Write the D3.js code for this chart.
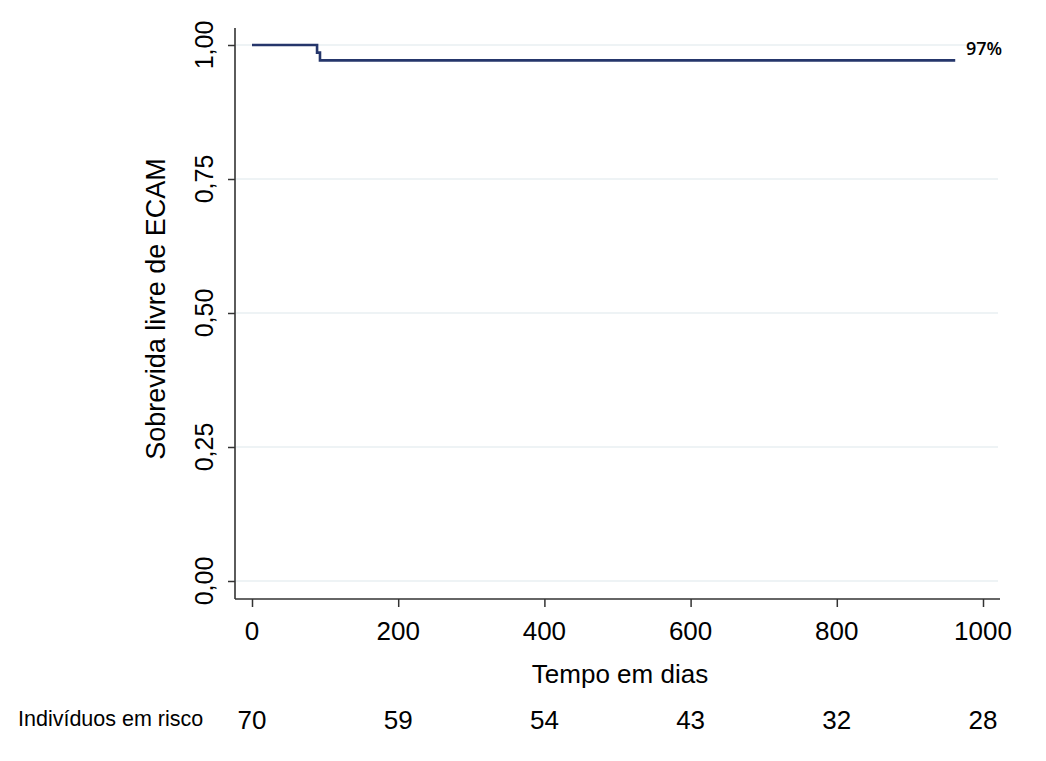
<!DOCTYPE html>
<html>
<head>
<meta charset="utf-8">
<script src="https://cdn.jsdelivr.net/npm/d3@7"></script>
<style>
  body { margin: 0; background: #fff; }
  svg { display: block; }
  text { font-family: "Liberation Sans", Arial, sans-serif; fill: #000; }
</style>
</head>
<body>
<svg id="chart" width="1046" height="761"></svg>
<script>
// Data
const times = [0, 89, 93, 962];
const survival = [1.0, 0.9857, 0.9714, 0.9714];
const yTicks = [0, 0.25, 0.5, 0.75, 1.0];
const xTicks = [0, 200, 400, 600, 800, 1000];
const riskCounts = [70, 59, 54, 43, 32, 28];
const finalLabel = "97%";

const svg = d3.select("#chart");
const x = d3.scaleLinear().domain([0, 1000]).range([252, 983]);
const y = d3.scaleLinear().domain([0, 1]).range([581, 45]);
const axisColor = "#333";
const fmt = d => d3.format(".2f")(d).replace(".", ",");

// gridlines
svg.append("g").selectAll("line").data(yTicks).join("line")
  .attr("x1", 236).attr("x2", 998)
  .attr("y1", d => y(d)).attr("y2", d => y(d))
  .attr("stroke", "#e8eff2").attr("stroke-width", 1.4);

// y axis
const yAxis = svg.append("g").attr("transform", "translate(235,0)")
  .call(d3.axisLeft(y).tickValues(yTicks).tickSize(7).tickFormat(fmt));
yAxis.select(".domain").remove();
yAxis.selectAll(".tick line").attr("stroke", axisColor).attr("stroke-width", 1.5);
yAxis.selectAll(".tick text").remove();
svg.append("line").attr("x1", 235).attr("x2", 235).attr("y1", 28).attr("y2", 599)
  .attr("stroke", axisColor).attr("stroke-width", 1.6);
svg.append("g").selectAll("text").data(yTicks).join("text")
  .attr("transform", d => `translate(213,${y(d)}) rotate(-90)`)
  .attr("text-anchor", "middle")
  .style("font-size", "25px")
  .text(fmt);

// x axis
const xAxis = svg.append("g").attr("transform", "translate(0,599)")
  .call(d3.axisBottom(x).tickValues(xTicks).tickSize(8).tickFormat(d3.format("d")));
xAxis.select(".domain").remove();
xAxis.selectAll(".tick line").attr("stroke", axisColor).attr("stroke-width", 1.5);
xAxis.selectAll(".tick text").remove();
svg.append("line").attr("x1", 235).attr("x2", 1000).attr("y1", 599).attr("y2", 599)
  .attr("stroke", axisColor).attr("stroke-width", 1.6);
svg.append("g").selectAll("text").data(xTicks).join("text")
  .attr("x", d => x(d)).attr("y", 640)
  .attr("text-anchor", "middle")
  .style("font-size", "26px")
  .text(d3.format("d"));

// axis titles
svg.append("text")
  .attr("transform", "translate(165,309) rotate(-90)")
  .attr("text-anchor", "middle")
  .style("font-size", "27px")
  .text("Sobrevida livre de ECAM");
svg.append("text")
  .attr("x", 620).attr("y", 683)
  .attr("text-anchor", "middle")
  .style("font-size", "26px")
  .text("Tempo em dias");

// curve
const line = d3.line()
  .x((d, i) => x(times[i]))
  .y((d, i) => y(survival[i]))
  .curve(d3.curveStepAfter);
svg.append("path").datum(survival)
  .attr("d", line)
  .attr("fill", "none")
  .attr("stroke", "#25366b")
  .attr("stroke-width", 2.6);

svg.append("text")
  .attr("x", 966).attr("y", 55)
  .style("font-family", "'Open Sans', sans-serif")
  .style("font-size", "18px")
  .style("font-weight", "600")
  .text(finalLabel);

// risk table
svg.append("text")
  .attr("x", 18).attr("y", 726)
  .style("font-size", "21.5px")
  .text("Indivíduos em risco");
svg.append("g").selectAll("text").data(riskCounts).join("text")
  .attr("x", (d, i) => x(xTicks[i])).attr("y", 729)
  .attr("text-anchor", "middle")
  .style("font-size", "26px")
  .text(d => d);
</script>
</body>
</html>
